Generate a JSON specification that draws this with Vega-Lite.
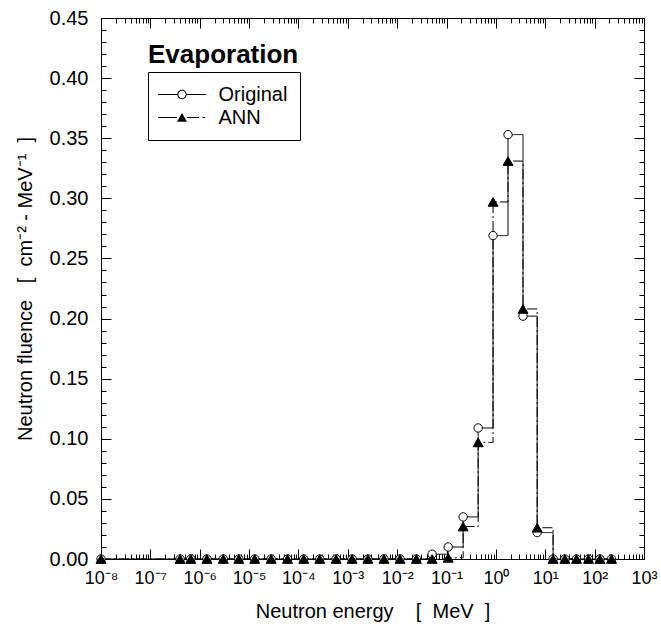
{
  "$schema": "https://vega.github.io/schema/vega-lite/v6.json",
  "width": 543,
  "height": 541,
  "autosize": {"type": "none"},
  "padding": {"left": 101, "top": 18, "right": 17, "bottom": 75},
  "background": "white",
  "config": {
    "view": {"stroke": "black", "strokeWidth": 1},
    "font": "Liberation Sans",
    "axis": {
      "domain": false, "grid": false, "tickColor": "black", "tickWidth": 1,
      "labelColor": "black", "titleColor": "black",
      "labelFont": "Liberation Sans", "titleFont": "Liberation Sans",
      "labelFontSize": 20, "titleFontSize": 20, "titleFontWeight": "normal",
      "labelFlush": false, "labelOverlap": false
    },
    "legend": {
      "orient": "none", "legendX": 47, "legendY": 54,
      "strokeColor": "black", "fillColor": "white", "padding": 12,
      "symbolSize": 400, "symbolOffset": 11.5, "rowPadding": 2,
      "labelFontSize": 20, "labelFont": "Liberation Sans", "labelColor": "black",
      "labelOffset": 26, "symbolStrokeWidth": 1, "symbolStrokeColor": "black",
      "symbolOpacity": 1, "cornerRadius": 0
    }
  },
  "title": {
    "text": "Evaporation", "anchor": "start", "orient": "top", "frame": "group",
    "offset": -45, "dx": 47, "dy": 36, "fontSize": 26, "fontWeight": "bold",
    "font": "Liberation Sans", "baseline": "alphabetic", "color": "black"
  },
  "data": {"values": [
    {"E": 1e-8, "phi": 0, "series": "Original"},
    {"E": 4.0e-7, "phi": 0, "series": "Original"},
    {"E": 6.6e-7, "phi": 0, "series": "Original"},
    {"E": 1.4e-6, "phi": 0, "series": "Original"},
    {"E": 3.0e-6, "phi": 0, "series": "Original"},
    {"E": 6.2e-6, "phi": 0, "series": "Original"},
    {"E": 1.3e-5, "phi": 0, "series": "Original"},
    {"E": 2.8e-5, "phi": 0, "series": "Original"},
    {"E": 6.0e-5, "phi": 0, "series": "Original"},
    {"E": 1.28e-4, "phi": 0, "series": "Original"},
    {"E": 2.7e-4, "phi": 0, "series": "Original"},
    {"E": 5.8e-4, "phi": 0, "series": "Original"},
    {"E": 1.22e-3, "phi": 0, "series": "Original"},
    {"E": 2.55e-3, "phi": 0, "series": "Original"},
    {"E": 5.4e-3, "phi": 0, "series": "Original"},
    {"E": 1.14e-2, "phi": 0, "series": "Original"},
    {"E": 2.45e-2, "phi": 0, "series": "Original"},
    {"E": 5.1e-2, "phi": 0.004, "series": "Original"},
    {"E": 0.108, "phi": 0.010, "series": "Original"},
    {"E": 0.217, "phi": 0.035, "series": "Original"},
    {"E": 0.437, "phi": 0.109, "series": "Original"},
    {"E": 0.875, "phi": 0.269, "series": "Original"},
    {"E": 1.76, "phi": 0.353, "series": "Original"},
    {"E": 3.54, "phi": 0.202, "series": "Original"},
    {"E": 6.85, "phi": 0.022, "series": "Original"},
    {"E": 14.4, "phi": 0, "series": "Original"},
    {"E": 25, "phi": 0, "series": "Original"},
    {"E": 43, "phi": 0, "series": "Original"},
    {"E": 75, "phi": 0, "series": "Original"},
    {"E": 128, "phi": 0, "series": "Original"},
    {"E": 220, "phi": 0, "series": "Original"},
    {"E": 1e-8, "phi": 0, "series": "ANN"},
    {"E": 4.0e-7, "phi": 0, "series": "ANN"},
    {"E": 6.6e-7, "phi": 0, "series": "ANN"},
    {"E": 1.4e-6, "phi": 0, "series": "ANN"},
    {"E": 3.0e-6, "phi": 0, "series": "ANN"},
    {"E": 6.2e-6, "phi": 0, "series": "ANN"},
    {"E": 1.3e-5, "phi": 0, "series": "ANN"},
    {"E": 2.8e-5, "phi": 0, "series": "ANN"},
    {"E": 6.0e-5, "phi": 0, "series": "ANN"},
    {"E": 1.28e-4, "phi": 0, "series": "ANN"},
    {"E": 2.7e-4, "phi": 0, "series": "ANN"},
    {"E": 5.8e-4, "phi": 0, "series": "ANN"},
    {"E": 1.22e-3, "phi": 0, "series": "ANN"},
    {"E": 2.55e-3, "phi": 0, "series": "ANN"},
    {"E": 5.4e-3, "phi": 0, "series": "ANN"},
    {"E": 1.14e-2, "phi": 0, "series": "ANN"},
    {"E": 2.45e-2, "phi": 0, "series": "ANN"},
    {"E": 5.1e-2, "phi": 0, "series": "ANN"},
    {"E": 0.108, "phi": 0.001, "series": "ANN"},
    {"E": 0.217, "phi": 0.027, "series": "ANN"},
    {"E": 0.437, "phi": 0.097, "series": "ANN"},
    {"E": 0.875, "phi": 0.297, "series": "ANN"},
    {"E": 1.76, "phi": 0.331, "series": "ANN"},
    {"E": 3.54, "phi": 0.208, "series": "ANN"},
    {"E": 6.85, "phi": 0.026, "series": "ANN"},
    {"E": 14.4, "phi": 0, "series": "ANN"},
    {"E": 25, "phi": 0, "series": "ANN"},
    {"E": 43, "phi": 0, "series": "ANN"},
    {"E": 75, "phi": 0, "series": "ANN"},
    {"E": 128, "phi": 0, "series": "ANN"},
    {"E": 220, "phi": 0, "series": "ANN"}
  ]},
  "layer": [
    {
      "mark": {"type": "line", "interpolate": "step-after", "color": "black", "strokeWidth": 1},
      "encoding": {
        "x": {"field": "E", "type": "quantitative",
          "scale": {"type": "log", "domain": [1e-8, 1000]},
          "axis": {"orient": "bottom",
            "values": [1e-8, 1e-7, 1e-6, 1e-5, 1e-4, 1e-3, 1e-2, 1e-1, 1, 10, 100, 1000],
            "tickSize": -10, "labelPadding": 20, "labelBaseline": "top", "labelFontSize": 18,
            "labelExpr": "['10⁻⁸','10⁻⁷','10⁻⁶','10⁻⁵','10⁻⁴','10⁻³','10⁻²','10⁻¹','10⁰','10¹','10²','10³'][round(log(datum.value)/LN10)+8]",
            "title": "Neutron energy\u00a0\u00a0\u00a0\u00a0[\u00a0\u00a0MeV\u00a0\u00a0]", "titlePadding": 14}},
        "y": {"field": "phi", "type": "quantitative",
          "scale": {"domain": [0, 0.45], "nice": false, "zero": true},
          "axis": {"orient": "left",
            "values": [0, 0.05, 0.1, 0.15, 0.2, 0.25, 0.3, 0.35, 0.4, 0.45],
            "format": ".2f", "tickSize": -10, "labelPadding": 23,
            "title": "Neutron fluence\u00a0\u00a0\u00a0[\u00a0\u00a0cm⁻²\u00a0-\u00a0MeV⁻¹\u00a0\u00a0]", "titlePadding": 14}},
        "detail": {"field": "series", "type": "nominal"},
        "strokeDash": {"condition": {"test": "datum.series === 'ANN'", "value": [10, 3, 2, 3]}, "value": [1, 0]}
      }
    },
    {
      "mark": {"type": "point", "filled": true, "stroke": "black", "strokeWidth": 1, "opacity": 1},
      "encoding": {
        "x": {"field": "E", "type": "quantitative",
          "scale": {"type": "log", "domain": [1e-8, 1000]},
          "axis": {"orient": "bottom", "labels": false, "title": null, "tickSize": -5,
            "values": [2e-8,3e-8,4e-8,5e-8,6e-8,7e-8,8e-8,9e-8,
                       2e-7,3e-7,4e-7,5e-7,6e-7,7e-7,8e-7,9e-7,
                       2e-6,3e-6,4e-6,5e-6,6e-6,7e-6,8e-6,9e-6,
                       2e-5,3e-5,4e-5,5e-5,6e-5,7e-5,8e-5,9e-5,
                       2e-4,3e-4,4e-4,5e-4,6e-4,7e-4,8e-4,9e-4,
                       2e-3,3e-3,4e-3,5e-3,6e-3,7e-3,8e-3,9e-3,
                       0.02,0.03,0.04,0.05,0.06,0.07,0.08,0.09,
                       0.2,0.3,0.4,0.5,0.6,0.7,0.8,0.9,
                       2,3,4,5,6,7,8,9,
                       20,30,40,50,60,70,80,90,
                       200,300,400,500,600,700,800,900]}},
        "y": {"field": "phi", "type": "quantitative",
          "scale": {"domain": [0, 0.45], "nice": false},
          "axis": {"orient": "left", "labels": false, "title": null, "tickSize": -5,
            "values": [0.01,0.02,0.03,0.04,0.06,0.07,0.08,0.09,0.11,0.12,0.13,0.14,0.16,0.17,0.18,0.19,0.21,0.22,0.23,0.24,0.26,0.27,0.28,0.29,0.31,0.32,0.33,0.34,0.36,0.37,0.38,0.39,0.41,0.42,0.43,0.44]}},
        "shape": {"condition": {"test": "datum.series === 'ANN'", "value": "triangle-up"}, "value": "circle"},
        "fill": {"condition": {"test": "datum.series === 'ANN'", "value": "black"}, "value": "white"},
        "size": {"condition": {"test": "datum.series === 'ANN'", "value": 100}, "value": 70}
      }
    },
    {
      "mark": {"type": "point", "opacity": 0, "stroke": "black", "strokeWidth": 1},
      "encoding": {
        "x": {"field": "E", "type": "quantitative",
          "scale": {"type": "log", "domain": [1e-8, 1000]},
          "axis": {"orient": "top", "labels": false, "title": null, "tickSize": -10,
            "values": [1e-8, 1e-7, 1e-6, 1e-5, 1e-4, 1e-3, 1e-2, 1e-1, 1, 10, 100, 1000]}},
        "y": {"field": "phi", "type": "quantitative",
          "scale": {"domain": [0, 0.45], "nice": false},
          "axis": {"orient": "right", "labels": false, "title": null, "tickSize": -10,
            "values": [0, 0.05, 0.1, 0.15, 0.2, 0.25, 0.3, 0.35, 0.4, 0.45]}},
        "shape": {"field": "series", "type": "nominal",
          "scale": {"domain": ["Original", "ANN"],
            "range": ["M-2.4,-0.06H-0.42V0.06H-2.4ZM0.42,-0.06H2.4V0.06H0.42ZM0.47,0A0.47,0.47,0,1,1,-0.47,0A0.47,0.47,0,1,1,0.47,0ZM0.37,0A0.37,0.37,0,1,0,-0.37,0A0.37,0.37,0,1,0,0.37,0Z",
                      "M-2.4,-0.06H-0.5V0.06H-2.4ZM0.5,-0.06H1.7V0.06H0.5ZM2.05,-0.06H2.3V0.06H2.05ZM0,-0.45L0.5,0.42L-0.5,0.42Z"]},
          "legend": {"title": null}},
        "fill": {"field": "series", "type": "nominal",
          "scale": {"domain": ["Original", "ANN"], "range": ["black", "black"]},
          "legend": {"title": null}}
      }
    },
    {
      "mark": {"type": "point", "opacity": 0},
      "encoding": {
        "x": {"field": "E", "type": "quantitative",
          "scale": {"type": "log", "domain": [1e-8, 1000]},
          "axis": {"orient": "top", "labels": false, "title": null, "tickSize": -5,
            "values": [2e-8,3e-8,4e-8,5e-8,6e-8,7e-8,8e-8,9e-8,
                       2e-7,3e-7,4e-7,5e-7,6e-7,7e-7,8e-7,9e-7,
                       2e-6,3e-6,4e-6,5e-6,6e-6,7e-6,8e-6,9e-6,
                       2e-5,3e-5,4e-5,5e-5,6e-5,7e-5,8e-5,9e-5,
                       2e-4,3e-4,4e-4,5e-4,6e-4,7e-4,8e-4,9e-4,
                       2e-3,3e-3,4e-3,5e-3,6e-3,7e-3,8e-3,9e-3,
                       0.02,0.03,0.04,0.05,0.06,0.07,0.08,0.09,
                       0.2,0.3,0.4,0.5,0.6,0.7,0.8,0.9,
                       2,3,4,5,6,7,8,9,
                       20,30,40,50,60,70,80,90,
                       200,300,400,500,600,700,800,900]}},
        "y": {"field": "phi", "type": "quantitative",
          "scale": {"domain": [0, 0.45], "nice": false},
          "axis": {"orient": "right", "labels": false, "title": null, "tickSize": -5,
            "values": [0.01,0.02,0.03,0.04,0.06,0.07,0.08,0.09,0.11,0.12,0.13,0.14,0.16,0.17,0.18,0.19,0.21,0.22,0.23,0.24,0.26,0.27,0.28,0.29,0.31,0.32,0.33,0.34,0.36,0.37,0.38,0.39,0.41,0.42,0.43,0.44]}}
      }
    }
  ],
  "resolve": {"axis": {"x": "independent", "y": "independent"}}
}
